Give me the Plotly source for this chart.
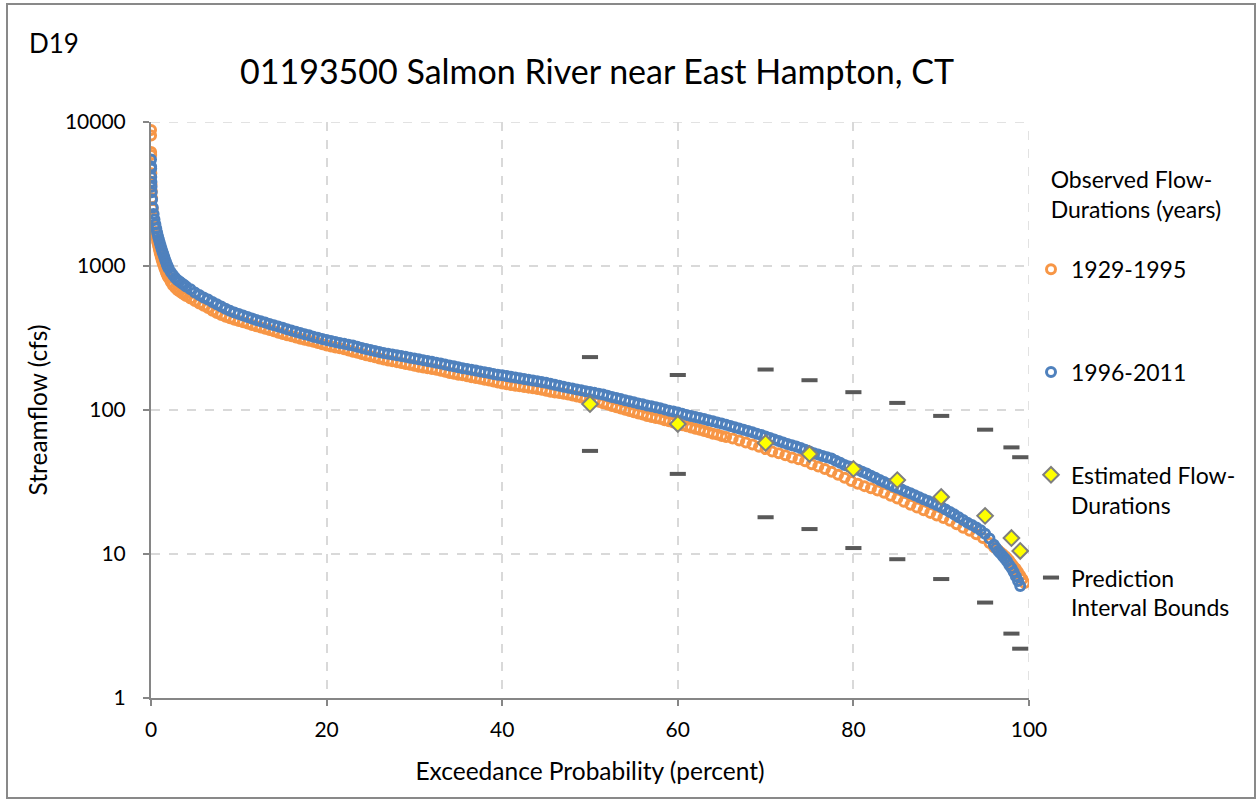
import plotly.graph_objects as go

# ---- Observed flow-duration curve, 1929-1995 (exceedance %, streamflow cfs) ----
ex_1929 = [
    0.004, 0.008, 0.015, 0.02, 0.04, 0.06, 0.09, 0.13,
    0.2, 0.3, 0.4, 0.5, 0.6, 0.7, 0.8, 0.9, 1.0, 1.1, 1.2, 1.3, 1.4, 1.5, 1.6, 1.7, 1.8, 1.9, 2.0,
    2.25, 2.5, 2.75, 3.0, 3.25, 3.5, 3.75, 4.0,
    4.5, 5.0, 5.5, 6.0, 6.5, 7.0, 7.5, 8.0, 8.5, 9.0,
    9.5, 10.0, 10.5, 11.0, 11.5, 12.0, 12.5, 13.0, 13.5, 14.0,
    14.5, 15.0, 15.5, 16.0, 16.5, 17.0, 17.5, 18.0, 18.5, 19.0,
    19.5, 20.0, 20.5, 21.0, 21.5, 22.0, 22.5, 23.0, 23.5, 24.0,
    24.5, 25.0, 25.5, 26.0, 26.5, 27.0, 27.5, 28.0, 28.5, 29.0,
    29.5, 30.0, 30.5, 31.0, 31.5, 32.0, 32.5, 33.0, 33.5, 34.0,
    34.5, 35.0, 35.5, 36.0, 36.5, 37.0, 37.5, 38.0, 38.5, 39.0,
    39.5, 40.0, 40.5, 41.0, 41.5, 42.0, 42.5, 43.0, 43.5, 44.0,
    44.5, 45.0, 45.5, 46.0, 46.5, 47.0, 47.5, 48.0, 48.5, 49.0,
    49.5, 50.0, 50.5, 51.0, 51.5, 52.0, 52.5, 53.0, 53.5, 54.0,
    54.5, 55.0, 55.5, 56.0, 56.5, 57.0, 57.5, 58.0, 58.5, 59.0,
    59.5, 60.0, 60.5, 61.0, 61.5, 62.0, 62.5, 63.0, 63.5, 64.0,
    64.5, 65.0, 65.5,
    66.25, 67.0, 67.75, 68.5, 69.25, 70.0, 70.75, 71.5, 72.25, 73.0,
    73.75, 74.5, 75.25, 76.0, 76.75, 77.5, 78.25, 79.0, 79.75, 80.5,
    81.25, 82.0, 82.75, 83.5, 84.25, 85.0, 85.75, 86.5, 87.25, 88.0,
    88.75, 89.5, 90.25, 91.0, 91.75, 92.5, 93.25, 94.0, 94.75, 95.5,
    96.0, 96.25, 96.5, 96.75, 97.0, 97.25, 97.5, 97.75, 98.0, 98.25,
    98.5, 98.75, 99.0, 99.25, 99.5,
]
q_1929 = [
    8800, 8050, 6200, 5900, 4400, 3700, 3300, 2950,
    2500, 2150, 1900, 1720, 1580, 1470, 1380, 1300, 1230, 1170, 1110, 1060, 1015, 975, 940, 905, 875, 850, 825,
    775, 735, 705, 680, 665, 650, 635, 620,
    595, 572, 550, 530, 510, 488, 472, 457, 444, 433,
    424, 415, 407, 399, 390, 382, 374, 366, 359, 352,
    344, 337, 331, 325, 319, 313, 308, 303, 298, 292,
    286, 280, 276, 272, 268, 264, 259, 254, 250, 245,
    240, 236, 232, 228, 224, 221, 218, 215, 212, 209,
    206, 203, 200, 197, 195, 192.5, 190, 187, 184, 181,
    178.5, 176, 174, 171.5, 169, 167, 165, 162.5, 160, 158,
    155.5, 153, 151, 149, 147.5, 146, 144.5, 143, 141.5, 140,
    138, 136, 134, 132.5, 131, 129.5, 128, 126, 124, 122,
    120, 118, 116.5, 114, 111.5, 109, 106.5, 104.5, 102.5, 100.5,
    98.5, 96.5, 94.5, 93, 91, 89.5, 88, 87, 85, 83.5,
    82, 80.5, 78.5, 77, 75.5, 74, 73, 71.5, 70, 68.5,
    67.5, 66, 65,
    63.5, 61.5, 59.5, 57.5, 55.5, 53.5, 51.5, 50, 48.5, 46.8,
    45.5, 44, 42, 40.5, 38.9, 37.2, 35.5, 33.8, 32.1, 30.7,
    29.6, 28.6, 27.6, 26.6, 25.4, 24.3, 23.1, 22, 21, 20.1,
    19.3, 18.5, 17.8, 17, 16.1, 15.2, 14.5, 13.7, 12.9, 11.9,
    11.2, 10.9, 10.6, 10.3, 10.0, 9.7, 9.4, 9.0, 8.6, 8.2,
    7.9, 7.5, 7.1, 6.7, 6.3,
]

# ---- Observed flow-duration curve, 1996-2011 ----
ex_1996 = [
    0.005, 0.012, 0.02, 0.03, 0.045, 0.06, 0.08, 0.12,
    0.2, 0.3, 0.4, 0.5, 0.6, 0.7, 0.8, 0.9, 1.0, 1.1, 1.2, 1.3, 1.4, 1.5, 1.6, 1.7, 1.8, 1.9, 2.0,
    2.25, 2.5, 2.75, 3.0, 3.25, 3.5, 3.75, 4.0,
    4.5, 5.0, 5.5, 6.0, 6.5, 7.0, 7.5, 8.0, 8.5, 9.0,
    9.5, 10.0, 10.5, 11.0, 11.5, 12.0, 12.5, 13.0, 13.5, 14.0,
    14.5, 15.0, 15.5, 16.0, 16.5, 17.0, 17.5, 18.0, 18.5, 19.0,
    19.5, 20.0, 20.5, 21.0, 21.5, 22.0, 22.5, 23.0, 23.5, 24.0,
    24.5, 25.0, 25.5, 26.0, 26.5, 27.0, 27.5, 28.0, 28.5, 29.0,
    29.5, 30.0, 30.5, 31.0, 31.5, 32.0, 32.5, 33.0, 33.5, 34.0,
    34.5, 35.0, 35.5, 36.0, 36.5, 37.0, 37.5, 38.0, 38.5, 39.0,
    39.5, 40.0, 40.5, 41.0, 41.5, 42.0, 42.5, 43.0, 43.5, 44.0,
    44.5, 45.0, 45.5, 46.0, 46.5, 47.0, 47.5, 48.0, 48.5, 49.0,
    49.5, 50.0, 50.5, 51.0, 51.5, 52.0, 52.5, 53.0, 53.5, 54.0,
    54.5, 55.0, 55.5, 56.0, 56.5, 57.0, 57.5, 58.0, 58.5, 59.0,
    59.5, 60.0, 60.5, 61.0, 61.5, 62.0, 62.5, 63.0, 63.5, 64.0,
    64.5, 65.0, 65.5, 66.0, 66.5, 67.0, 67.5, 68.0, 68.5, 69.0,
    69.5, 70.0, 70.5, 71.0, 71.5, 72.0, 72.5, 73.0, 73.5, 74.0,
    74.5, 75.0, 75.5, 76.0, 76.5, 77.0, 77.5, 78.0, 78.5, 79.0,
    79.5, 80.0, 80.5, 81.0, 81.5, 82.0, 82.5, 83.0, 83.5, 84.0,
    84.5, 85.0, 85.5, 86.0, 86.5, 87.0, 87.5, 88.0, 88.5, 89.0,
    89.5, 90.0, 90.5, 91.0, 91.5, 92.0, 92.5, 93.0, 93.5, 94.0,
    94.5, 95.0, 95.5, 96.0,
    96.25, 96.5, 96.75, 97.0, 97.25, 97.5, 97.75, 98.0, 98.25, 98.5, 98.75, 99.0,
]
q_1996 = [
    5500, 4900, 4750, 4150, 3850, 3550, 3250, 2900,
    2550, 2300, 2100, 1950, 1820, 1710, 1610, 1530, 1450, 1380, 1320, 1260, 1210, 1160, 1110, 1070, 1030, 995, 965,
    910, 865, 830, 800, 780, 760, 740, 720,
    690, 655, 630, 605, 585, 562, 542, 523, 505, 488,
    476, 464, 453, 442, 432, 422, 413, 405, 396, 388,
    380, 372, 364, 356, 349, 342, 336, 330, 323, 317,
    311, 306, 301, 297, 292, 288, 284, 280, 275, 270,
    265, 261, 257, 253, 249, 246, 243, 240, 237, 234,
    231, 228, 225, 222, 219, 216, 213, 210, 207, 204,
    201, 198, 195, 193, 190, 188, 185, 183, 181, 178,
    176, 174, 172, 170, 168, 166, 164, 162, 160, 158.5,
    156.5, 154.5, 152, 150, 147.5, 145, 143, 141, 139, 137,
    135, 133.5, 131.5, 129.5, 128, 125.5, 123, 121, 119, 117,
    115, 113, 111, 109.5, 107.5, 106, 104.5, 103, 101, 99,
    97.5, 96, 94, 92.5, 91, 89.5, 88, 86.5, 85, 83.5,
    82, 80.5, 79, 77.5, 76, 74.5, 73, 71.5, 70, 68.5,
    67, 65.5, 64, 62.5, 61, 59.5, 58, 57, 55.8, 54.5,
    53, 51.5, 50, 49, 48, 47, 46, 44.5, 43, 41.5,
    40.5, 39.5, 38.5, 37.3, 36.2, 35, 33.8, 32.6, 31.6, 30.6,
    29.6, 28.8, 28, 27.2, 26.4, 25.6, 24.8, 24, 23.3, 22.6,
    21.9, 21.2, 20.4, 19.6, 18.8, 18, 17.2, 16.5, 15.9, 15.3,
    14.6, 13.8, 12.8, 11.6,
    11.0, 10.5, 10.1, 9.7, 9.3, 8.9, 8.4, 8.0, 7.5, 7.0, 6.5, 6.0,
]

# ---- Estimated flow durations and prediction-interval bounds ----
est_ex = [50, 60, 70, 75, 80, 85, 90, 95, 98, 99]
est_q = [110, 80, 59, 49.5, 39, 32.6, 24.9, 18.4, 12.9, 10.5]
pi_upper = [233, 175, 191, 161, 133, 112, 91, 73, 55, 47]
pi_lower = [52, 36, 18, 14.9, 11, 9.2, 6.7, 4.6, 2.8, 2.2]

x_ticks = [0, 20, 40, 60, 80, 100]
y_ticks = [1, 10, 100, 1000, 10000]

FONT = "Lato, Carlito, Calibri, sans-serif"
ORANGE = "#F79646"
BLUE = "#4F81BD"
AXIS_GRAY = "#868686"
GRID_GRAY = "#D9D9D9"

fig = go.Figure()

fig.add_trace(go.Scatter(
    x=ex_1929, y=q_1929, mode="markers", name="1929-1995<br> ",
    legendgroup="a",
    marker=dict(symbol="circle-open", size=9, color=ORANGE, line=dict(width=3, color=ORANGE)),
))
fig.add_trace(go.Scatter(
    x=ex_1996, y=q_1996, mode="markers", name="1996-2011<br> ",
    legendgroup="b",
    marker=dict(symbol="circle-open", size=9, color=BLUE, line=dict(width=3, color=BLUE)),
))
fig.add_trace(go.Scatter(
    x=est_ex, y=est_q, mode="markers", name="Estimated Flow-<br>Durations",
    legendgroup="c",
    marker=dict(symbol="diamond", size=12, color="#FFFF00", line=dict(width=2, color="#7F7F7F")),
))
fig.add_trace(go.Scatter(
    x=est_ex + est_ex, y=pi_upper + pi_lower, mode="markers",
    name="Prediction<br>Interval Bounds",
    legendgroup="d",
    marker=dict(symbol="line-ew", size=11.5, color="#595959", line=dict(width=4, color="#595959")),
))

# plot-area geometry in pixels, used to place the frame and labels
L, R, T, B = 151, 1029, 122, 698
W, H = R - L, B - T


def px_x(px):
    return (px - L) / W


def px_y(py):
    return (B - py) / H


grid_line = dict(color=GRID_GRAY, width=1.5, dash="dash")
NB = "\u00a0" * 3

fig.update_layout(
    width=1257, height=801, autosize=False,
    margin=dict(l=L, r=1257 - R, t=T, b=801 - B),
    paper_bgcolor="white", plot_bgcolor="white",
    font=dict(family=FONT, color="#000000", size=21),
    title=dict(
        text="01193500 Salmon River near East Hampton, CT",
        font=dict(family=FONT, size=34, color="#000000"),
        x=597 / 1257, xanchor="center", xref="container",
        y=1 - 72 / 801, yanchor="middle", yref="container",
    ),
    showlegend=True,
    legend=dict(
        x=px_x(1031), xanchor="left",
        y=px_y(158), yanchor="top",
        font=dict(family=FONT, size=23, color="#000000"),
        title=dict(text=NB + "Observed Flow-<br>" + NB + "Durations (years)<br> ",
                   font=dict(family=FONT, size=23, color="#000000")),
        tracegroupgap=40,
        valign="top",
        bgcolor="rgba(0,0,0,0)",
        traceorder="grouped",
        itemsizing="trace",
    ),
    xaxis=dict(
        range=[0, 100], tickvals=x_ticks,
        showgrid=True, gridcolor=GRID_GRAY, griddash="dash", gridwidth=1.5,
        showline=True, linecolor=AXIS_GRAY, linewidth=2,
        ticks="outside", ticklen=6, tickcolor=AXIS_GRAY, tickwidth=1.5,
        tickfont=dict(family=FONT, size=21),
        ticklabelstandoff=6,
        zeroline=False,
        title=dict(text="Exceedance Probability (percent)",
                   font=dict(family=FONT, size=24.5), standoff=23),
    ),
    yaxis=dict(
        type="log", range=[0, 4],
        tickvals=y_ticks, ticktext=[str(v) for v in y_ticks],
        showgrid=True, gridcolor=GRID_GRAY, griddash="dash", gridwidth=1.5,
        showline=True, linecolor=AXIS_GRAY, linewidth=2,
        ticks="outside", ticklen=6, tickcolor=AXIS_GRAY, tickwidth=1.5,
        tickfont=dict(family=FONT, size=21),
        ticklabelstandoff=13,
        zeroline=False,
        title=dict(text="Streamflow (cfs)", font=dict(family=FONT, size=24.5), standoff=10),
    ),
    annotations=[
        dict(text="D19", xref="paper", yref="paper",
             x=px_x(27), y=px_y(43), xanchor="left", yanchor="middle",
             showarrow=False, font=dict(family=FONT, size=26, color="#000000")),
    ],
    shapes=[
        # gridlines along the upper and right edges of the plot area
        dict(type="line", xref="paper", yref="y", x0=0, x1=1,
             y0=y_ticks[-1], y1=y_ticks[-1], line=grid_line, layer="below"),
        dict(type="line", xref="x", yref="paper", x0=x_ticks[-1], x1=x_ticks[-1],
             y0=0, y1=1, line=grid_line, layer="below"),
        # outer chart frame
        dict(type="rect", xref="paper", yref="paper",
             x0=px_x(7), x1=px_x(1255), y0=px_y(798), y1=px_y(4),
             line=dict(color="#898989", width=2), fillcolor="rgba(0,0,0,0)", layer="below"),
    ],
)

fig.write_html("out.html")
